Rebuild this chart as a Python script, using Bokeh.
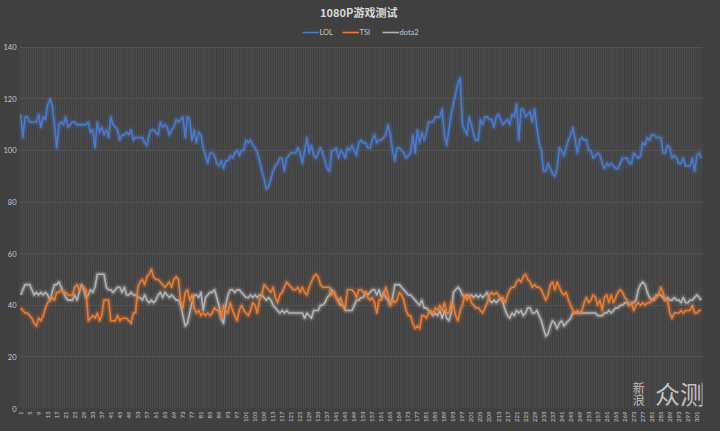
from bokeh.plotting import figure
from bokeh.models import (Range1d, FixedTicker, Legend, LegendItem, Label,
                          GlobalInlineStyleSheet, ColumnDataSource)
from bokeh.embed import file_html
from bokeh.resources import INLINE
import math

# ---------------- data ----------------
title_text = "1080P游戏测试"
series_names = ["LOL", "TSI", "dota2"]

lol = [114,105,113,113,111,111,111,111,114,109,
       113,112,117.5,120,117.5,110,101,110,111,110,
       113,109,110,111,111,110,110,110,110,110,
       111,107,108,101,111,107,109,106,108,105,
       113,110,109,108,104,106,106,107,106,108,
       104,105,105,105,105,103,102,106,108,108,
       107,106,111,109,110,109,106,108,109,112,
       111,112,113,105,113,112,104,108,103,107,
       106,101,98,95,99,99,98,95,94,96,
       93,96,96,98,97,99,100,98,100,100,
       104,103,104,102,101,99,96,92,89,85,
       86,89,92,94,95,97,97,92,97,98,
       99,99,99,101,99,95,100,105,99,102,
       98,97,99,101,99,96,93,92,100,100,
       101,97,100,99,97,101,100,102,100,98,
       103,104,103,103,101,101,104,106,103,104,
       104,105,106,110,106,100,96,101,101,100,
       99,97,98,99,106,99,108,103,107,104,
       107,111,111,111,113,113,113,116,106,102,
       108,114,118,122,126,128,110,108,106,113,
       110,106,104,104,112,110,113,113,112,112,
       109,113,114,112,110,111,112,110,114,113,
       118,104,116,116,113,114,115,111,116,109,
       103,100,92,92,95,93,91,90,93,101,
       100,98,101,104,106,109,104,99,104,105,
       104,104,100,100,97,98,99,98,95,93,
       95,94,95,94,93,93,95,97,97,97,
       95,95,99,98,97,98,103,102,105,104,
       106,106,105,105,105,99,99,102,101,97,
       98,97,95,95,97,94,94,94,97,92,
       98,99,97]

tsi = [39,38,37,37,36,35,33,32,35,34,
       36,39,41,42,43,42,45,45,46,45,
       45,44,44,44,47,48,46,47,47,46,
       34,35,36,35,37,34,36,42,42,42,
       34,34,34,36,34,35,35,35,34,33,
       37,37,47,49,50,48,51,52,54,51,
       50,50,49,48,47,48,49,47,50,51,
       50,42,39,45,46,42,44,39,37,38,
       36,37,36,37,36,37,39,38,38,35,
       40,38,37,41,38,36,34,38,40,38,
       37,36,38,41,40,37,42,44,48,47,
       46,45,47,43,41,44,45,47,49,48,
       47,46,46,47,45,47,45,44,47,49,
       51,52,51,48,47,47,47,47,44,45,
       43,41,43,40,39,46,46,46,45,43,
       46,46,45,45,43,42,43,41,37,42,
       42,44,47,44,40,42,41,42,45,44,
       42,38,36,36,33,31,32,31,36,36,
       35,37,38,37,39,38,40,38,41,37,
       37,41,40,36,34,38,40,44,42,44,
       41,40,39,39,38,37,39,41,44,45,
       44,45,44,42,43,41,44,46,47,47,
       49,50,49,51,52,50,49,47,48,47,
       47,46,44,42,44,48,49,46,49,47,
       45,44,45,42,40,38,37,38,37,38,
       41,43,41,42,44,43,40,42,38,43,
       44,41,44,41,43,45,46,45,43,42,
       40,41,38,40,41,40,41,40,41,41,
       42,43,43,44,47,45,42,42,37,35,
       37,37,37,38,37,38,38,38,40,37,
       37,38,38]

dota2 = [44,46,48,48,48,46,44,45,44,45,
         44,45,44,42,45,48,48,49,47,45,
         43,42,42,42,44,42,45,48,46,43,
         44,46,45,47,52,52,52,52,47,46,
         46,45,46,47,47,45,47,44,44,45,
         44,44,43,43,42,44,42,41,42,41,
         42,44,45,43,45,44,43,44,43,42,
         42,40,36,32,33,37,41,44,44,43,
         45,38,43,44,45,45,46,43,40,35,
         33,40,44,46,46,45,46,46,45,44,
         43,43,44,43,44,43,44,44,43,42,
         43,42,40,39,38,37,38,37,38,37,
         37,37,37,37,37,37,35,37,36,35,
         38,38,38,40,40,41,43,44,46,45,
         43,42,40,40,38,38,38,38,40,42,
         42,43,43,45,44,45,46,46,44,46,
         43,45,43,42,40,43,48,48,48,47,
         46,45,44,44,43,42,41,40,42,39,
         39,38,37,36,37,36,38,35,38,35,
         34,37,45,46,47,46,44,43,44,43,
         44,43,44,43,44,43,44,45,42,41,
         42,41,42,43,41,38,36,35,37,36,
         38,37,38,36,37,39,39,37,37,38,
         36,34,31,28,29,32,34,33,31,33,
         34,32,33,34,35,37,37,37,37,37,
         37,37,37,37,37,37,36,36,36,37,
         37,38,37,38,39,39,40,40,41,41,
         40,41,41,42,46,48,49,48,45,43,
         42,42,44,44,44,43,42,43,42,42,
         43,42,42,41,43,41,41,42,42,43,
         44,43,42]

n = len(lol)
x_idx = list(range(1, n + 1))
x_tick_values = list(range(1, n + 1, 4))
y_tick_values = [0, 20, 40, 60, 80, 100, 120, 140]
y_max = 140
y_top = 158.1          # headroom above the value axis for title and legend

# ---------------- styling ----------------
BG = "#404040"
TXT = "#c8c8c8"
colors = {"LOL": "#4a7bd0", "TSI": "#ed7d31", "dota2": "#b4b4b4"}

p = figure(width=704, height=424, output_backend="svg", toolbar_location=None,
           x_range=Range1d(0.5, n + 0.5), y_range=Range1d(0, y_top),
           background_fill_color=BG, border_fill_color=BG,
           outline_line_color=None,
           min_border_left=12, min_border_right=2, min_border_top=0, min_border_bottom=0)

p.stylesheets = [GlobalInlineStyleSheet(css="html, body { background: #404040; }")]

# axes
p.xaxis.ticker = FixedTicker(ticks=x_tick_values)
p.xaxis.major_label_orientation = math.pi / 2
p.xaxis.major_label_text_font_size = "6px"
p.xaxis.major_label_text_font = "Lato"
p.xaxis.major_label_text_color = TXT
p.xaxis.major_label_standoff = 3
p.xaxis.axis_line_color = None
p.xaxis.major_tick_line_color = None
p.xaxis.minor_tick_line_color = None
p.xaxis.major_tick_out = 0
p.xaxis.major_tick_in = 0
p.xaxis.minor_tick_out = 0

p.yaxis.ticker = FixedTicker(ticks=y_tick_values)
p.yaxis.major_label_text_font_size = "7.5px"
p.yaxis.major_label_text_font = "Lato"
p.yaxis.major_label_text_color = TXT
p.yaxis.major_label_standoff = 3
p.yaxis.axis_line_color = None
p.yaxis.major_tick_line_color = None
p.yaxis.minor_tick_line_color = None
p.yaxis.major_tick_out = 0
p.yaxis.major_tick_in = 0
p.yaxis.minor_tick_out = 0

# grids
p.xgrid.grid_line_color = None
p.ygrid.ticker = FixedTicker(ticks=y_tick_values)
p.ygrid.grid_line_color = "#575757"
p.ygrid.grid_line_width = 1

# category separator lines (vertical stripes) limited to the value area
bounds = [i + 0.5 for i in range(0, n + 1)]
p.segment(x0=bounds, y0=[0] * len(bounds), x1=bounds, y1=[y_max] * len(bounds),
          line_color="#4e4e4e", line_width=1)

# lines with glow
src = ColumnDataSource(data=dict(x=x_idx, LOL=lol, TSI=tsi, dota2=dota2))
main_renderers = {}
for name in ["dota2", "TSI", "LOL"]:
    c = colors[name]
    p.line("x", name, source=src, line_color=c, line_width=7, line_alpha=0.10, line_join="round")
    p.line("x", name, source=src, line_color=c, line_width=4.5, line_alpha=0.22, line_join="round")
    main_renderers[name] = p.line("x", name, source=src, line_color=c, line_width=1.6,
                                  line_join="round")

# title
p.add_layout(Label(x=(n + 1) / 2.0 - 1.0, y=y_top - 4.6, text=title_text,
                   text_font="Noto Sans CJK SC", text_font_style="bold", text_font_size="11px",
                   text_color="#d9d9d9", text_align="center", text_baseline="middle"))

legend = Legend(items=[LegendItem(label=nm, renderers=[main_renderers[nm]]) for nm in series_names],
                orientation="horizontal", location="top_center",
                background_fill_alpha=0, border_line_color=None,
                label_text_color=TXT, label_text_font="Lato", label_text_font_size="7.5px",
                label_height=10, glyph_width=17, glyph_height=8, label_standoff=1, spacing=2,
                padding=1, margin=27)
p.add_layout(legend)

# watermark
wm_color = "#d8d8d8"
p.add_layout(Label(x=272.6, y=8.3, text="新", text_font="Noto Sans CJK SC", text_font_size="12px",
                   text_color=wm_color, text_alpha=0.85, text_baseline="middle"))
p.add_layout(Label(x=272.6, y=3.6, text="浪", text_font="Noto Sans CJK SC", text_font_size="12px",
                   text_color=wm_color, text_alpha=0.85, text_baseline="middle"))
p.add_layout(Label(x=282.4, y=6.2, text="众测", text_font="Noto Sans CJK SC", text_font_size="25px",
                   text_color=wm_color, text_alpha=0.85, text_baseline="middle"))

open("out.html", "w").write(file_html(p, INLINE, title_text))
